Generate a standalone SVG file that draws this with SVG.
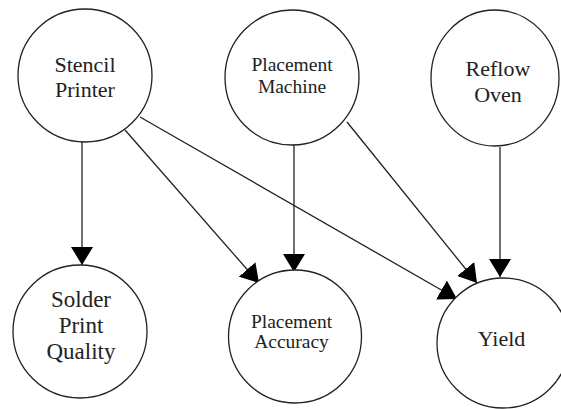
<svg xmlns="http://www.w3.org/2000/svg" width="561" height="409" viewBox="0 0 561 409">
<defs>
<style>
.node{fill:#fff;stroke:#222;stroke-width:1.3}
.lbl{font-family:"Liberation Serif","Times New Roman",serif;fill:#222;text-anchor:middle}
.edge{stroke:#222;stroke-width:1.3;fill:none;marker-end:url(#ah)}
</style>
<marker id="ah" markerUnits="userSpaceOnUse" viewBox="0 0 18 22" refX="18" refY="11" markerWidth="18" markerHeight="22" orient="auto">
<path d="M0,0 L18,11 L0,22 z" fill="#000"/>
</marker>
</defs>
<rect width="561" height="409" fill="#fff"/>
<g id="connectors">
<line class="edge" x1="82" y1="142" x2="82" y2="265"/>
<line class="edge" x1="125" y1="130" x2="259" y2="283"/>
<line class="edge" x1="140" y1="117" x2="457" y2="299"/>
<line class="edge" x1="294" y1="145" x2="294" y2="272"/>
<line class="edge" x1="347" y1="122" x2="477" y2="283"/>
<line class="edge" x1="500" y1="147" x2="500" y2="277"/>
</g>
<g id="stencil-printer">
<ellipse class="node" cx="85" cy="75.5" rx="67" ry="66.5"/>
<text class="lbl" font-size="22" x="85" y="72">Stencil</text>
<text class="lbl" font-size="22" x="85" y="97">Printer</text>
</g>
<g id="placement-machine">
<ellipse class="node" cx="292" cy="77.5" rx="67" ry="67.5"/>
<text class="lbl" font-size="19.5" x="292" y="71">Placement</text>
<text class="lbl" font-size="19.5" x="292" y="93">Machine</text>
</g>
<g id="reflow-oven">
<ellipse class="node" cx="495" cy="78" rx="64" ry="68"/>
<text class="lbl" font-size="22" x="498" y="76">Reflow</text>
<text class="lbl" font-size="22" x="498" y="102">Oven</text>
</g>
<g id="solder-print-quality">
<ellipse class="node" cx="80" cy="331.5" rx="67" ry="66.5"/>
<text class="lbl" font-size="23" x="81" y="307">Solder</text>
<text class="lbl" font-size="23" x="81" y="333">Print</text>
<text class="lbl" font-size="23" x="81" y="359">Quality</text>
</g>
<g id="placement-accuracy">
<ellipse class="node" cx="295" cy="336.5" rx="66.5" ry="66.5"/>
<text class="lbl" font-size="19.5" x="291.5" y="328">Placement</text>
<text class="lbl" font-size="19.5" x="291.5" y="348">Accuracy</text>
</g>
<g id="yield">
<ellipse class="node" cx="503" cy="343" rx="66" ry="65"/>
<text class="lbl" font-size="22" x="501.5" y="346">Yield</text>
</g>
</svg>
